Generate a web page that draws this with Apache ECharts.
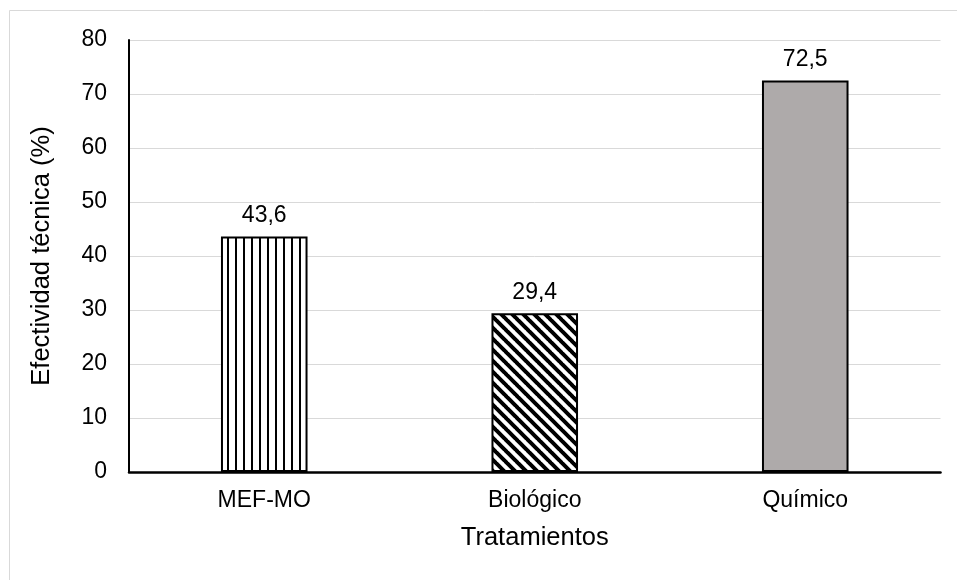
<!DOCTYPE html>
<html>
<head>
<meta charset="utf-8">
<script src="https://cdn.jsdelivr.net/npm/echarts@6/dist/echarts.min.js"></script>
<style>
  html, body { margin: 0; padding: 0; background: #fff; }
  #chart { width: 957px; height: 580px; }
</style>
</head>
<body>
<div id="chart"></div>
<script>
// Treatments and their technical effectiveness (%)
const categories = ['MEF-MO', 'Biológico', 'Químico'];
const effectiveness = [43.6, 29.4, 72.5];
const yTicks = [0, 10, 20, 30, 40, 50, 60, 70, 80];

const FONT = '"Liberation Sans", Arial, sans-serif';

// Vertical hatch: thin black lines on white
function verticalHatch() {
  const c = document.createElement('canvas');
  c.width = 8; c.height = 8;
  const g = c.getContext('2d');
  g.fillStyle = '#fff';
  g.fillRect(0, 0, 8, 8);
  g.fillStyle = '#000';
  g.fillRect(3, 0, 2, 8);
  return c;
}

// Diagonal hatch running from top-left to bottom-right
function diagonalHatch() {
  const n = 11;
  const c = document.createElement('canvas');
  c.width = n; c.height = n;
  const g = c.getContext('2d');
  g.fillStyle = '#fff';
  g.fillRect(0, 0, n, n);
  g.strokeStyle = '#000';
  g.lineWidth = 4;
  g.beginPath();
  for (const k of [-n, 0, n]) {
    g.moveTo(k - 1, -1);
    g.lineTo(k + n + 1, n + 1);
  }
  g.stroke();
  return c;
}

const fills = [
  { image: verticalHatch(), repeat: 'repeat' },
  { image: diagonalHatch(), repeat: 'repeat' },
  '#aeaaaa'
];

const chart = echarts.init(document.getElementById('chart'), null, { renderer: 'canvas' });

chart.setOption({
  animation: false,
  backgroundColor: '#fff',
  textStyle: { fontFamily: FONT },
  graphic: [{
    type: 'rect',
    shape: { x: 9.5, y: 10.5, width: 1200, height: 900 },
    style: { fill: 'none', stroke: '#d9d9d9', lineWidth: 1 },
    silent: true,
    z: -1
  }],
  grid: { left: 129, right: 16.5, top: 40, bottom: 108 },
  xAxis: {
    type: 'category',
    data: categories,
    name: 'Tratamientos',
    nameLocation: 'middle',
    nameGap: 53,
    nameTextStyle: { fontSize: 25.5, color: '#000', fontFamily: FONT },
    axisLine: { lineStyle: { color: '#000', width: 2.5 } },
    axisTick: { show: false },
    axisLabel: { fontSize: 23, color: '#000', margin: 17, fontFamily: FONT },
    splitLine: { show: false }
  },
  yAxis: {
    type: 'value',
    min: yTicks[0],
    max: yTicks[yTicks.length - 1],
    interval: yTicks[1] - yTicks[0],
    name: 'Efectividad técnica (%)',
    nameLocation: 'middle',
    nameGap: 74,
    nameTextStyle: { fontSize: 25.5, color: '#000', fontFamily: FONT },
    axisLine: { show: true, lineStyle: { color: '#000', width: 2 } },
    axisTick: { show: false },
    axisLabel: { fontSize: 23, color: '#000', margin: 22, fontFamily: FONT },
    splitLine: { lineStyle: { color: '#d9d9d9', width: 1 } }
  },
  series: [{
    type: 'bar',
    barWidth: '32%',
    data: effectiveness.map((v, i) => ({
      value: v,
      itemStyle: { color: fills[i], borderColor: '#000', borderWidth: 2 }
    })),
    label: {
      show: true,
      position: 'top',
      distance: 9,
      fontSize: 23,
      color: '#000',
      fontFamily: FONT,
      formatter: p => p.value.toFixed(1).replace('.', ',')
    }
  }]
});
</script>
</body>
</html>
